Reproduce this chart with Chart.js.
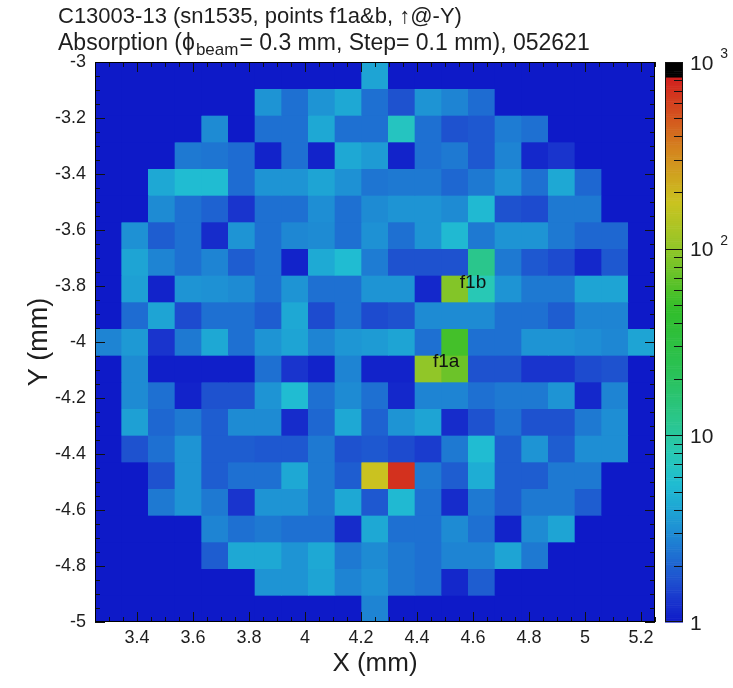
<!DOCTYPE html>
<html>
<head>
<meta charset="utf-8">
<script src="https://cdn.jsdelivr.net/npm/chart.js@4/dist/chart.umd.min.js"></script>
<style>
html,body{margin:0;padding:0;background:#ffffff;}
#wrap{width:733px;height:688px;position:relative;}
</style>
</head>
<body>
<div id="wrap"><canvas id="c" width="733" height="688"></canvas></div>
<script>
// ---------------- DATA ----------------
const titleLine1 = "C13003-13 (sn1535, points f1a&b, \u2191@-Y)";
const titleLine2a = "Absorption (\u03D5";
const titleLine2sub = "beam";
const titleLine2b = "= 0.3 mm, Step= 0.1 mm), 052621";
const xTitle = "X (mm)";
const yTitle = "Y (mm)";

const xTickValues = [3.4, 3.6, 3.8, 4.0, 4.2, 4.4, 4.6, 4.8, 5.0, 5.2];
const xTickLabels = ["3.4", "3.6", "3.8", "4", "4.2", "4.4", "4.6", "4.8", "5", "5.2"];
const yTickValues = [-5, -4.8, -4.6, -4.4, -4.2, -4, -3.8, -3.6, -3.4, -3.2, -3];
const yTickLabels = ["-5", "-4.8", "-4.6", "-4.4", "-4.2", "-4", "-3.8", "-3.6", "-3.4", "-3.2", "-3"];
const zTickValues = [1, 10, 100, 1000];
const zTickBase = ["1", "10", "10", "10"];
const zTickExp = ["", "", "2", "3"];

// bin centres (21 x 21 bins)
const xCenters = [3.2976, 3.3929, 3.4881, 3.5833, 3.6786, 3.7738, 3.8690, 3.9643, 4.0595, 4.1548, 4.2500,
                  4.3452, 4.4405, 4.5357, 4.6310, 4.7262, 4.8214, 4.9167, 5.0119, 5.1071, 5.2024];
// rows listed from top (Y = -3) to bottom (Y = -5)
const yCenters = [-3.0476, -3.1429, -3.2381, -3.3333, -3.4286, -3.5238, -3.6190, -3.7143, -3.8095, -3.9048, -4.0000,
                  -4.0952, -4.1905, -4.2857, -4.3810, -4.4762, -4.5714, -4.6667, -4.7619, -4.8571, -4.9524];
const binHalfHeight = 0.047619;

// absorption counts per row (top -> bottom), columns left -> right
const zRow00 = [1,1,1,1,1,1,1,1,1,1,4,1,1,1,1,1,1,1,1,1,1];
const zRow01 = [1,1,1,1,1,1,3.3,2.3,3.3,4.2,2.3,1.7,3.3,2.8,2.2,1,1,1,1,1,1];
const zRow02 = [1,1,1,1,3.0,1,2.3,2.3,4.2,2.3,2.3,7,2.3,1.7,1.8,2.6,2.3,1,1,1,1];
const zRow03 = [1,1,1,2.5,2.4,2.2,1.1,2.3,1.1,4.2,3.6,1.1,2.3,2.5,1.8,2.8,1.15,1.3,1,1,1];
const zRow04 = [1,1,4.2,5.5,5.5,2.2,3.3,3.3,4.0,3.2,2.4,2.5,2.5,2.1,2.5,3.3,2.3,4.2,2.1,1,1];
const zRow05 = [1,1,3.0,2.3,2.0,1.3,2.3,2.3,3.1,2.3,3.0,3.3,3.3,3.0,5.3,1.7,1.6,2.5,2.5,1,1];
const zRow06 = [1,3.2,1.9,2.3,1.2,3.3,2.3,2.9,3.0,2.3,3.2,2.3,3.3,5.3,2.5,3.3,3.3,2.5,2.1,2.1,1];
const zRow07 = [1,4.0,2.8,2.3,2.8,1.9,2.3,1.1,4.3,5.5,2.6,1.7,1.7,1.7,12,2.5,1.8,1.6,1.15,1.8,1];
const zRow08 = [1,3.8,1.1,3.3,3.2,3.0,2.3,3.3,2.3,2.3,3.3,3.3,1.15,90,8,3.3,2.5,2.5,4.0,4.0,1];
const zRow09 = [1,2.2,4.0,1.6,2.3,2.3,1.9,4.2,1.6,2.3,1.6,1.7,3.0,3.0,3.0,2.3,2.3,1.9,2.8,2.8,1];
const zRow10 = [2.8,3.5,1.3,2.5,4.2,2.3,3.3,4.0,2.8,3.4,3.6,4.0,2.3,55,2.3,2.3,3.3,3.3,3.1,2.9,4.0];
const zRow11 = [1,3.0,1.05,1.05,1.05,1.05,2.3,1.3,1.1,2.8,1.1,1.1,100,75,1.7,1.7,1.3,1.3,1.6,1.7,1];
const zRow12 = [1,3.0,2.3,1.1,1.7,1.7,3.3,5.5,2.3,3.0,2.3,1.15,2.8,2.8,2.3,2.5,2.5,3.3,1.15,2.8,1];
const zRow13 = [1,3.8,2.1,2.5,1.9,3.0,3.0,1.2,2.1,4.2,2.0,3.3,4.0,1.2,1.7,2.3,1.7,1.7,2.5,3.1,1];
const zRow14 = [1,1.7,2.3,3.3,1.9,1.9,1.8,1.8,2.5,1.7,1.8,1.6,1.4,2.5,5.5,1.9,3.3,1.9,3.1,3.1,1];
const zRow15 = [1,1,1.7,3.3,1.9,2.3,2.3,4.2,2.5,1.9,180,700,2.5,1.9,4.5,1.9,1.9,2.5,2.5,1,1];
const zRow16 = [1,1,2.5,3.3,2.5,1.3,3.3,3.3,2.5,4.2,1.8,5.3,2.3,1.2,2.5,1.9,2.5,2.5,1.9,1,1];
const zRow17 = [1,1,1,1,2.8,2.3,2.5,2.3,2.3,1.2,4.2,2.3,2.3,3.0,2.3,1.1,3.0,4.0,1,1,1];
const zRow18 = [1,1,1,1,1.9,4.2,4.2,3.3,4.2,2.5,3.0,2.5,2.3,2.8,2.8,4.0,2.5,1,1,1,1];
const zRow19 = [1,1,1,1,1,1,3.3,3.3,4.0,2.8,3.2,2.5,2.3,1.15,1.9,1,1,1,1,1,1];
const zRow20 = [1,1,1,1,1,1,1,1,1,1,2.8,1,1,1,1,1,1,1,1,1,1];
const zRows = [zRow00,zRow01,zRow02,zRow03,zRow04,zRow05,zRow06,zRow07,zRow08,zRow09,zRow10,
               zRow11,zRow12,zRow13,zRow14,zRow15,zRow16,zRow17,zRow18,zRow19,zRow20];

// point annotations (data coordinates)
const annotLabels = ["f1b", "f1a"];
const annotX = [4.600, 4.504];
const annotY = [-3.789, -4.071];

// ---------------- STYLE ----------------
const FONT = "'Liberation Sans', Arial, Helvetica, sans-serif";
const TEXT = '#1e1e1e';
const palStops = [
  [0.000,[14,26,200]],
  [0.038,[25,52,205]],
  [0.077,[30,82,207]],
  [0.120,[30,112,210]],
  [0.173,[30,148,212]],
  [0.208,[30,168,212]],
  [0.247,[32,188,210]],
  [0.300,[40,200,182]],
  [0.360,[42,198,140]],
  [0.450,[42,193,85]],
  [0.560,[50,190,42]],
  [0.667,[145,198,40]],
  [0.750,[202,195,32]],
  [0.840,[212,135,30]],
  [0.920,[212,70,30]],
  [0.975,[210,30,30]]
];
function palette(v) {
  let t = Math.log10(Math.max(v, 1)) / 3;
  if (t >= 0.975) return 'rgb(0,0,0)';
  for (let i = 1; i < palStops.length; i++) {
    if (t <= palStops[i][0]) {
      const [t0, c0] = palStops[i-1], [t1, c1] = palStops[i];
      const f = (t - t0) / (t1 - t0);
      const c = c0.map((a, k) => Math.round(a + (c1[k] - a) * f));
      return `rgb(${c[0]},${c[1]},${c[2]})`;
    }
  }
  const c = palStops[palStops.length-1][1];
  return `rgb(${c[0]},${c[1]},${c[2]})`;
}

const datasets = zRows.map((row, r) => ({
  data: row.map(() => [yCenters[r] - binHalfHeight, yCenters[r] + binHalfHeight]),
  backgroundColor: row.map(v => palette(v)),
  borderWidth: 0,
  xAxisID: 'xc',
  yAxisID: 'y',
  barPercentage: 1,
  categoryPercentage: 1,
  grouped: false
}));

// ---------------- PLUGINS ----------------
const decorPlugin = {
  id: 'decor',
  beforeDatasetsDraw(chart) {
    const ca = chart.chartArea, ctx = chart.ctx;
    ctx.save();
    ctx.fillStyle = palette(1);
    ctx.fillRect(ca.left, ca.top, ca.right - ca.left, ca.bottom - ca.top);
    ctx.restore();
  },
  afterDatasetsDraw(chart) {
    const ctx = chart.ctx, ca = chart.chartArea;
    const xs = chart.scales.x, ys = chart.scales.y, zs = chart.scales.z;
    ctx.save();
    // frame ticks (inside)
    ctx.strokeStyle = '#111';
    ctx.lineWidth = 1;
    ctx.beginPath();
    for (let k = Math.ceil(xs.min / 0.05 - 1e-6); k * 0.05 <= xs.max + 1e-6; k++) {
      const v = k * 0.05;
      const major = Math.abs(v / 0.2 - Math.round(v / 0.2)) < 1e-6;
      const L = major ? 10 : 5;
      const px = Math.round(xs.getPixelForValue(v)) + 0.5;
      ctx.moveTo(px, ca.bottom); ctx.lineTo(px, ca.bottom - L);
      ctx.moveTo(px, ca.top); ctx.lineTo(px, ca.top + L);
    }
    for (let k = Math.ceil(ys.min / 0.05 - 1e-6); k * 0.05 <= ys.max + 1e-6; k++) {
      const v = k * 0.05;
      const major = Math.abs(v / 0.2 - Math.round(v / 0.2)) < 1e-6;
      const L = major ? 10 : 5;
      const py = Math.round(ys.getPixelForValue(v)) + 0.5;
      ctx.moveTo(ca.left, py); ctx.lineTo(ca.left + L, py);
      ctx.moveTo(ca.right, py); ctx.lineTo(ca.right - L, py);
    }
    ctx.stroke();
    // frame
    ctx.strokeStyle = '#000';
    ctx.strokeRect(ca.left + 0.5, ca.top + 0.5, ca.right - ca.left - 1, ca.bottom - ca.top - 1);

    // annotations
    ctx.fillStyle = '#111';
    ctx.font = '19px ' + FONT;
    ctx.textAlign = 'center';
    ctx.textBaseline = 'middle';
    annotLabels.forEach((t, i) => {
      ctx.fillText(t, xs.getPixelForValue(annotX[i]), ys.getPixelForValue(annotY[i]));
    });

    // colour bar
    const bx0 = ca.right + 10, bx1 = ca.right + 28;
    const N = 300;
    for (let i = 0; i < N; i++) {
      const l0 = 3 * i / N, l1 = 3 * (i + 1) / N;
      const yA = zs.getPixelForValue(Math.pow(10, l0));
      const yB = zs.getPixelForValue(Math.pow(10, l1));
      ctx.fillStyle = palette(Math.pow(10, (l0 + l1) / 2));
      ctx.fillRect(bx0, yB, bx1 - bx0, yA - yB + 0.6);
    }
    ctx.strokeStyle = '#111';
    ctx.lineWidth = 1;
    ctx.beginPath();
    for (let dec = 0; dec < 3; dec++) {
      for (let m = 2; m <= 9; m++) {
        const py = Math.round(zs.getPixelForValue(m * Math.pow(10, dec))) + 0.5;
        ctx.moveTo(bx1, py); ctx.lineTo(bx1 - 9, py);
      }
    }
    [10, 100].forEach(v => {
      const py = Math.round(zs.getPixelForValue(v)) + 0.5;
      ctx.moveTo(bx0, py); ctx.lineTo(bx1, py);
    });
    ctx.stroke();
    ctx.strokeRect(bx0 + 0.5, ca.top + 0.5, bx1 - bx0 - 1, ca.bottom - ca.top - 1);

    // colour bar labels
    ctx.fillStyle = TEXT;
    ctx.textAlign = 'left';
    ctx.textBaseline = 'middle';
    zTickValues.forEach((v, i) => {
      const py = zs.getPixelForValue(v);
      ctx.font = '21px ' + FONT;
      ctx.fillText(zTickBase[i], bx1 + 7, py + 2);
      if (zTickExp[i]) {
        const w = ctx.measureText(zTickBase[i]).width;
        ctx.font = '14px ' + FONT;
        ctx.fillText(zTickExp[i], bx1 + 7 + w + 7, py - 8);
      }
    });

    // title
    ctx.fillStyle = TEXT;
    ctx.textAlign = 'left';
    ctx.textBaseline = 'alphabetic';
    const tx = 58;
    ctx.font = '22px ' + FONT;
    ctx.fillText(titleLine1, tx, 23);
    ctx.font = '23px ' + FONT;
    ctx.fillText(titleLine2a, tx, 50);
    let w = ctx.measureText(titleLine2a).width;
    ctx.font = '17px ' + FONT;
    ctx.fillText(titleLine2sub, tx + w + 1, 55);
    w += ctx.measureText(titleLine2sub).width + 2;
    ctx.font = '23px ' + FONT;
    ctx.fillText(titleLine2b, tx + w, 50);
    ctx.restore();
  }
};

// ---------------- CHART ----------------
new Chart(document.getElementById('c').getContext('2d'), {
  type: 'bar',
  data: { labels: xCenters.map(v => v.toFixed(4)), datasets },
  options: {
    responsive: false,
    animation: false,
    devicePixelRatio: 1,
    layout: { padding: { left: 0, right: 0, top: 62, bottom: 0 } },
    plugins: { legend: { display: false }, tooltip: { enabled: false }, title: { display: false } },
    scales: {
      xc: { type: 'category', axis: 'x', display: false, offset: true },
      x: {
        type: 'linear', axis: 'x', position: 'bottom', min: 3.25, max: 5.25, offset: false,
        afterBuildTicks: s => { s.ticks = xTickValues.map(v => ({ value: v })); },
        afterFit: s => { s.height = 66; },
        ticks: { callback: (v, i) => xTickLabels[i], autoSkip: false, maxRotation: 0, padding: 5,
                 color: TEXT, font: { family: FONT, size: 18 } },
        grid: { display: false, drawTicks: false, offset: false },
        border: { display: false },
        title: { display: true, text: xTitle, color: TEXT, font: { family: FONT, size: 26 },
                 padding: { top: 0, bottom: 9 } }
      },
      y: {
        type: 'linear', axis: 'y', position: 'left', min: -5, max: -3, offset: false,
        afterBuildTicks: s => { s.ticks = yTickValues.map(v => ({ value: v })); },
        afterFit: s => { s.width = 95; },
        ticks: { callback: (v, i) => yTickLabels[i], autoSkip: false, padding: 9,
                 color: TEXT, font: { family: FONT, size: 18 } },
        grid: { display: false, drawTicks: false },
        border: { display: false },
        title: { display: true, text: yTitle, color: TEXT, font: { family: FONT, size: 27 },
                 padding: { top: 23, bottom: 0 } }
      },
      z: {
        type: 'logarithmic', axis: 'y', position: 'right', min: 1, max: 1000, offset: false,
        afterBuildTicks: s => { s.ticks = zTickValues.map(v => ({ value: v })); },
        afterFit: s => { s.width = 78; },
        ticks: { display: false },
        grid: { display: false, drawTicks: false },
        border: { display: false }
      }
    }
  },
  plugins: [decorPlugin]
});
</script>
</body>
</html>
